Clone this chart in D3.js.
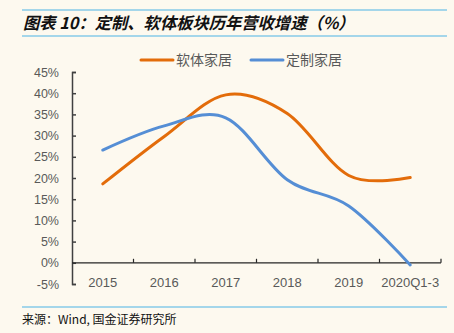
<!DOCTYPE html>
<html>
<head>
<meta charset="utf-8">
<script src="https://cdn.jsdelivr.net/npm/d3@7"></script>
<style>
  body { margin: 0; background: #fdf9ef; }
  svg { display: block; }
</style>
</head>
<body>
<svg id="chart" width="454" height="333"></svg>
<script>
// Revenue growth by segment, % year on year
var years = ["2015", "2016", "2017", "2018", "2019", "2020Q1-3"];
var softFurniture = [18.6, 29.8, 39.6, 35.2, 20.6, 20.1];   // 软体家居
var customFurniture = [26.6, 32.3, 34.2, 19.6, 13.4, -0.5]; // 定制家居
var yTicks = [-5, 0, 5, 10, 15, 20, 25, 30, 35, 40, 45];

var series = [
    { name: "软体家居", values: softFurniture, color: "#e36c0a" },
    { name: "定制家居", values: customFurniture, color: "#558ed5" }
];

var svg = d3.select("#chart"),
    width = +svg.attr("width"),
    height = +svg.attr("height");

var cjk = "'Noto Sans CJK SC', sans-serif";
var latin = "'Liberation Sans', Arial, sans-serif";

// Header and footer rules
svg.append("rect").attr("width", width).attr("height", height).attr("fill", "#fdf9ef");
[10, 36, 307].forEach(function (y) {
    svg.append("line")
        .attr("x1", 22).attr("x2", 447)
        .attr("y1", y).attr("y2", y)
        .attr("stroke", "#4db3e6").attr("stroke-width", 1.2);
});

svg.append("text")
    .attr("x", 23).attr("y", 29)
    .attr("font-family", cjk)
    .attr("font-size", 16.3)
    .attr("font-weight", "bold")
    .attr("font-style", "italic")
    .attr("fill", "#111")
    .text("图表 10：定制、软体板块历年营收增速（%）");

svg.append("text")
    .attr("x", 22).attr("y", 324)
    .attr("font-family", cjk)
    .attr("font-size", 12)
    .attr("fill", "#111")
    .text("来源：Wind, 国金证券研究所");

// Scales
var x = d3.scaleBand().domain(years).range([72, 441]);
var y = d3.scaleLinear().domain([-5, 45]).range([284, 72]);

// Y axis, ticks pointing into the plot
var yAxis = svg.append("g")
    .attr("transform", "translate(72,0)")
    .call(d3.axisRight(y).tickValues(yTicks).tickSize(4).tickFormat(function (d) { return d + "%"; }));
yAxis.select(".domain").attr("stroke", "#404040").attr("stroke-width", 1.5);
yAxis.selectAll(".tick line").attr("stroke", "#404040").attr("stroke-width", 1.5);
yAxis.selectAll(".tick text")
    .attr("x", -13)
    .attr("text-anchor", "end")
    .attr("fill", "#595959")
    .attr("font-family", latin)
    .attr("font-size", 12.5);

// X axis sits on the 0% line, ticks at band edges pointing up
var xAxisY = y(0);
svg.append("line")
    .attr("x1", 72).attr("x2", 441)
    .attr("y1", xAxisY).attr("y2", xAxisY)
    .attr("stroke", "#262626").attr("stroke-width", 1.2);
var edges = years.map(function (d) { return x(d); }).concat([x.range()[1]]);
svg.selectAll(".xtick")
    .data(edges.slice(1))
    .enter().append("line")
    .attr("class", "xtick")
    .attr("x1", function (d) { return d; }).attr("x2", function (d) { return d; })
    .attr("y1", xAxisY - 4).attr("y2", xAxisY)
    .attr("stroke", "#262626").attr("stroke-width", 1.2);
svg.selectAll(".xlabel")
    .data(years)
    .enter().append("text")
    .attr("class", "xlabel")
    .attr("x", function (d) { return x(d) + x.bandwidth() / 2; })
    .attr("y", 287)
    .attr("text-anchor", "middle")
    .attr("fill", "#595959")
    .attr("font-family", latin)
    .attr("font-size", 13)
    .text(function (d) { return d; });

// Smoothed lines
var line = d3.line()
    .x(function (d, i) { return x(years[i]) + x.bandwidth() / 2; })
    .y(function (d) { return y(d); })
    .curve(d3.curveCardinal.tension(0));

svg.selectAll(".series")
    .data(series)
    .enter().append("path")
    .attr("class", "series")
    .attr("d", function (d) { return line(d.values); })
    .attr("fill", "none")
    .attr("stroke", function (d) { return d.color; })
    .attr("stroke-width", 3)
    .attr("stroke-linecap", "round");

// Legend
var legend = svg.selectAll(".legend")
    .data(series)
    .enter().append("g")
    .attr("class", "legend")
    .attr("transform", function (d, i) { return "translate(" + (141 + i * 110) + ",60)"; });
legend.append("line")
    .attr("x1", 0).attr("x2", 32)
    .attr("stroke", function (d) { return d.color; })
    .attr("stroke-width", 3)
    .attr("stroke-linecap", "round");
legend.append("text")
    .attr("x", 35).attr("y", 5)
    .attr("fill", "#595959")
    .attr("font-family", cjk)
    .attr("font-size", 14)
    .text(function (d) { return d.name; });
</script>
</body>
</html>
